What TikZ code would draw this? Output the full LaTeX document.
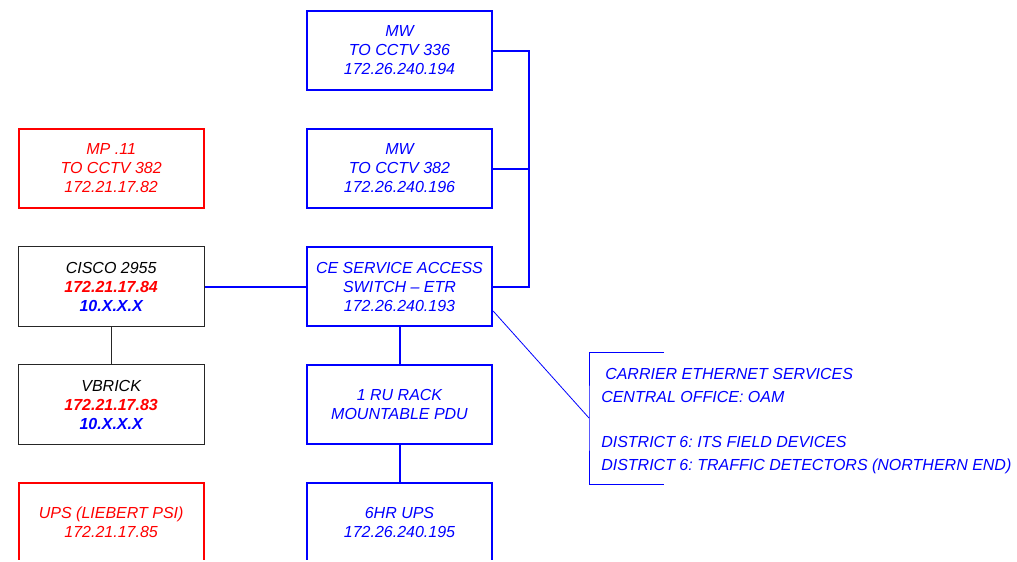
\documentclass[tikz,border=0pt]{standalone}
\usepackage{fontspec}
\setmainfont{Liberation Sans}
\usepackage{xcolor}
\usepackage{tikz}
\usetikzlibrary{positioning, calc}
\definecolor{netblue}{HTML}{0000FF}
\definecolor{netred}{HTML}{FF0000}
\frenchspacing

\begin{document}
\begin{tikzpicture}[
  x=0.75pt, y=-0.75pt,
  dev/.style={rectangle, draw=netblue, line width=1.5pt, text=netblue, inner sep=0pt,
              minimum width=139pt, minimum height=59.25pt, align=center,
              font=\fontsize{12}{14.25}\selectfont\itshape},
  devred/.style={dev, draw=netred, text=netred},
  devblack/.style={dev, draw=black!85, line width=0.75pt, text=black,
                   minimum width=139.75pt, minimum height=60pt},
  notes/.style={align=left, inner sep=0pt, text=netblue,
                font=\fontsize{12}{16.9}\selectfont\itshape},
  link/.style={draw=netblue, line width=1.5pt},
  thinlink/.style={draw=netblue, line width=0.6pt},
  node distance=27.75pt and 75.75pt
]
  \useasboundingbox (0,0) rectangle (1017,561);
  \clip (0,0) rectangle (1017,559.5);

  % centre column
  \node[dev] (ce)     at (399.5,286.5) {CE SERVICE ACCESS\\SWITCH -- ETR\\172.26.240.193};
  \node[dev] (mw382)  [above=of ce]    {MW\\TO CCTV 382\\172.26.240.196};
  \node[dev] (mw336)  [above=of mw382] {MW\\TO CCTV 336\\172.26.240.194};
  \node[dev] (rack)   [below=of ce]    {1 RU RACK\\MOUNTABLE PDU};
  \node[dev] (ups)    [below=of rack]  {6HR UPS\\172.26.240.195};

  % left column
  \node[devblack] (cisco)   [left=of ce]       {CISCO 2955\\\textbf{\color{netred}172.21.17.84}\\\textbf{\color{netblue}10.X.X.X}};
  \node[devred]   (mp)      [above=of cisco]   {MP .11\\TO CCTV 382\\172.21.17.82};
  \node[devblack] (vbrick)  [below=of cisco]   {VBRICK\\\textbf{\color{netred}172.21.17.83}\\\textbf{\color{netblue}10.X.X.X}};
  \node[devred]   (liebert) [below=of vbrick]  {UPS (LIEBERT PSI)\\172.21.17.85};

  % service notes
  \node[notes, anchor=west] (svc) at (601,421)
    {\hspace*{3pt}CARRIER ETHERNET SERVICES\\CENTRAL OFFICE: OAM\\[16.9pt]
     DISTRICT 6: ITS FIELD DEVICES\\DISTRICT 6: TRAFFIC DETECTORS (NORTHERN END)};
  \coordinate (bus)   at (529,49.5);
  \coordinate (brtop) at (664,352);
  \coordinate (brbot) at (664,484);
  \coordinate (brmid) at (589,418);

  \draw[link] (mw336.east) -- (mw336.east -| bus) |- (ce.east);
  \draw[link] (mw382.east) -- (mw382.east -| bus);
  \draw[link] (cisco) -- (ce);
  \draw[black!85, line width=0.75pt] (cisco) -- (vbrick);
  \draw[link] (ce) -- (rack);
  \draw[link] (rack) -- (ups);
  \draw[thinlink] ($(ce.south east)+(0,-16)$) -- (brmid);
  \draw[thinlink] (brtop) -| (brmid) |- (brbot);
\end{tikzpicture}
\end{document}
